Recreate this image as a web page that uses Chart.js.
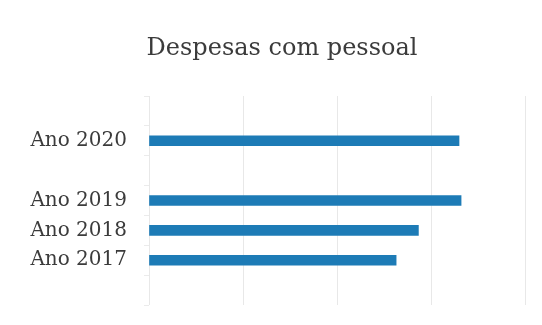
<!DOCTYPE html>
<html>
<head>
<meta charset="utf-8">
<script src="https://cdn.jsdelivr.net/npm/chart.js@4/dist/chart.umd.min.js"></script>
<style>
  html, body { margin: 0; padding: 0; background: #ffffff; }
  #wrap { width: 542px; height: 325px; position: relative; }
</style>
</head>
<body>
<div id="wrap"><canvas id="chart"></canvas></div>
<script>
/* Despesas com pessoal - horizontal bars */

// empty slots keep the spacing above 2020 and around the axis ends
const categories = ["", "Ano 2020", "", "Ano 2019", "Ano 2018", "Ano 2017", ""];
const despesas = [null, 329.8, null, 332, 286.6, 262.9, null];
const axisMax = 400;
const axisStep = 100;
const chartTitle = "Despesas com pessoal";

const textColor = "#3b3b3b";
const barColor = "#1d7bb6";
const serif = "'DejaVu Serif', serif";

// the title sits a little right of the canvas centre, so it is drawn here
const titlePlugin = {
  id: "offsetTitle",
  afterDraw(chart) {
    const ctx = chart.ctx;
    ctx.save();
    ctx.font = `24px ${serif}`;
    ctx.fillStyle = textColor;
    ctx.textAlign = "center";
    ctx.textBaseline = "alphabetic";
    ctx.fillText(chartTitle, 282, 55);
    ctx.restore();
  },
};

new Chart(document.getElementById("chart"), {
  type: "bar",
  data: {
    labels: categories,
    datasets: [{
      label: chartTitle,
      data: despesas,
      backgroundColor: barColor,
      borderWidth: 0,
      barThickness: 10,
    }],
  },
  options: {
    indexAxis: "y",
    responsive: true,
    maintainAspectRatio: false,
    animation: false,
    layout: { padding: { left: 0, right: 17, top: 96, bottom: 20 } },
    scales: {
      x: {
        min: 0,
        max: axisMax,
        ticks: { stepSize: axisStep, display: false },
        grid: { color: "rgba(0, 0, 0, 0.09)", drawTicks: false },
        border: { display: false },
        afterFit: (scale) => { scale.height = 0; },
      },
      y: {
        ticks: {
          color: textColor,
          padding: 17,
          font: { family: serif, size: 20 },
        },
        grid: {
          drawOnChartArea: false,
          tickLength: 5,
          color: "rgba(0, 0, 0, 0.08)",
        },
        border: { display: false },
        afterFit: (scale) => {
          scale.width = 149;
          scale.paddingTop = 0;
          scale.paddingBottom = 0;
        },
      },
    },
    plugins: {
      legend: { display: false },
      tooltip: { enabled: false },
      title: { display: false },
    },
  },
  plugins: [titlePlugin],
});
</script>
</body>
</html>
